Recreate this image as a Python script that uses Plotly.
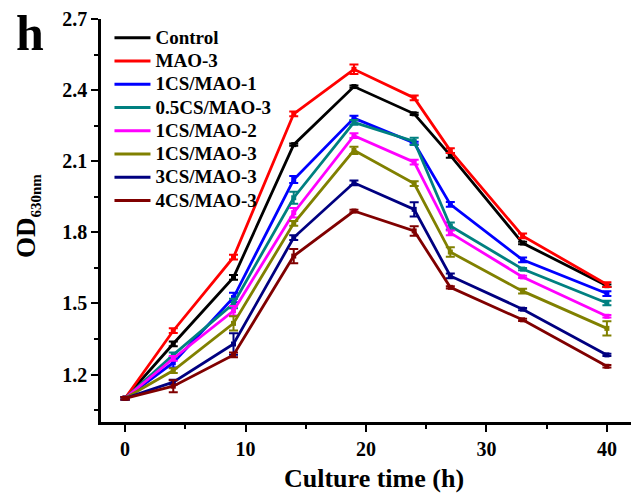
import plotly.graph_objects as go

time_h = [0, 4, 9, 14, 19, 24, 27, 33, 40]

series_names = ["Control", "MAO-3", "1CS/MAO-1", "0.5CS/MAO-3",
                "1CS/MAO-2", "1CS/MAO-3", "3CS/MAO-3", "4CS/MAO-3"]

control = [1.10, 1.33, 1.61, 2.17, 2.415, 2.30, 2.125, 1.755, 1.575]
mao3 = [1.10, 1.385, 1.695, 2.30, 2.488, 2.367, 2.145, 1.785, 1.58]
cs1_mao1 = [1.10, 1.25, 1.525, 2.023, 2.282, 2.177, 1.918, 1.684, 1.542]
cs05_mao3 = [1.10, 1.283, 1.50, 1.946, 2.264, 2.184, 1.827, 1.645, 1.502]
cs1_mao2 = [1.10, 1.268, 1.469, 1.883, 2.208, 2.096, 1.798, 1.612, 1.446]
cs1_mao3 = [1.10, 1.217, 1.416, 1.838, 2.146, 2.006, 1.717, 1.552, 1.395]
cs3_mao3 = [1.10, 1.168, 1.329, 1.778, 2.009, 1.897, 1.616, 1.476, 1.283]
cs4_mao3 = [1.10, 1.151, 1.283, 1.70, 1.890, 1.806, 1.568, 1.431, 1.235]

err_control = [0.005, 0.01, 0.01, 0.005, 0.005, 0.005, 0.01, 0.005, 0.005]
err_mao3 = [0.005, 0.01, 0.01, 0.01, 0.02, 0.01, 0.01, 0.01, 0.01]
err_cs1_mao1 = [0.005, 0.02, 0.02, 0.015, 0.01, 0.005, 0.01, 0.01, 0.01]
err_cs05_mao3 = [0.005, 0.01, 0.02, 0.025, 0.01, 0.015, 0.015, 0.005, 0.01]
err_cs1_mao2 = [0.005, 0.01, 0.02, 0.02, 0.01, 0.01, 0.01, 0.005, 0.005]
err_cs1_mao3 = [0.005, 0.01, 0.03, 0.01, 0.015, 0.01, 0.02, 0.01, 0.03]
err_cs3_mao3 = [0.005, 0.01, 0.045, 0.01, 0.01, 0.03, 0.01, 0.005, 0.005]
err_cs4_mao3 = [0.005, 0.025, 0.01, 0.03, 0.005, 0.02, 0.005, 0.005, 0.005]

values = [control, mao3, cs1_mao1, cs05_mao3, cs1_mao2, cs1_mao3, cs3_mao3, cs4_mao3]
errors = [err_control, err_mao3, err_cs1_mao1, err_cs05_mao3,
          err_cs1_mao2, err_cs1_mao3, err_cs3_mao3, err_cs4_mao3]
colors = ["#000000", "#FF0000", "#0000FF", "#008080",
          "#FF00FF", "#808000", "#000080", "#800000"]

FONT = "Liberation Serif, Times New Roman, serif"

fig = go.Figure()
for name, ys, es, c in zip(series_names, values, errors, colors):
    fig.add_trace(go.Scatter(
        x=time_h, y=ys, name=name, mode="lines+markers", showlegend=False,
        line=dict(color=c, width=2.8),
        marker=dict(symbol="square", size=5, color=c),
        error_y=dict(type="data", array=es, visible=True,
                     color=c, thickness=2, width=4.5),
    ))
# legend entries (lines only)
for name, c in zip(series_names, colors):
    fig.add_trace(go.Scatter(
        x=[None], y=[None],
        name="<span style='font-size:19px'>" + name + "</span>",
        mode="lines", line=dict(color=c, width=3), showlegend=True,
    ))

fig.update_layout(
    width=637, height=493,
    margin=dict(l=101, r=6, t=19, b=71),
    plot_bgcolor="white", paper_bgcolor="white",
    font=dict(family=FONT, size=20, color="black"),
    showlegend=True,
    legend=dict(x=0.016, y=0.995, xanchor="left", yanchor="top",
                bgcolor="rgba(0,0,0,0)",
                font=dict(family=FONT, size=15.6, color="black", weight="bold"),
                tracegroupgap=0, itemwidth=36),
    annotations=[
        dict(text="<b>h</b>", xref="paper", yref="paper",
             x=-0.134, y=0.965, xanchor="center", yanchor="middle",
             showarrow=False, font=dict(family=FONT, size=50, color="black")),
        dict(text="<b>OD<sub><span style='font-size:15px'>630nm</span></sub></b>",
             xref="paper", yref="paper", x=-0.1396, y=0.511,
             xanchor="center", yanchor="middle", textangle=-90,
             showarrow=False, font=dict(family=FONT, size=27, color="black")),
        dict(text="<b>Culture time (h)</b>", xref="paper", yref="paper",
             x=0.515, y=-0.139, xanchor="center", yanchor="middle",
             showarrow=False, font=dict(family=FONT, size=26, color="black")),
    ],
)

fig.update_xaxes(
    range=[-2, 42], tickvals=[0, 10, 20, 30, 40], automargin=False,
    showline=True, linecolor="black", linewidth=2.5,
    ticks="outside", ticklen=7, tickwidth=2, tickcolor="black",
    minor=dict(tickvals=[5, 15, 25, 35], ticks="outside", ticklen=4,
               tickwidth=2, tickcolor="black"),
    showgrid=False, zeroline=False, mirror=False,
    tickfont=dict(family=FONT, size=20, weight="bold"),
)
fig.update_yaxes(
    range=[1.0, 2.7], tickvals=[1.2, 1.5, 1.8, 2.1, 2.4, 2.7], automargin=False,
    tickformat=".1f",
    showline=True, linecolor="black", linewidth=2.5,
    ticks="outside", ticklen=7, tickwidth=2, tickcolor="black",
    minor=dict(tickvals=[1.05, 1.35, 1.65, 1.95, 2.25, 2.55], ticks="outside",
               ticklen=4, tickwidth=2, tickcolor="black"),
    showgrid=False, zeroline=False, mirror=False,
    tickfont=dict(family=FONT, size=20, weight="bold"),
)

fig.write_html("out.html", config={"displayModeBar": False},
               post_script="document.body.style.margin='0';")
